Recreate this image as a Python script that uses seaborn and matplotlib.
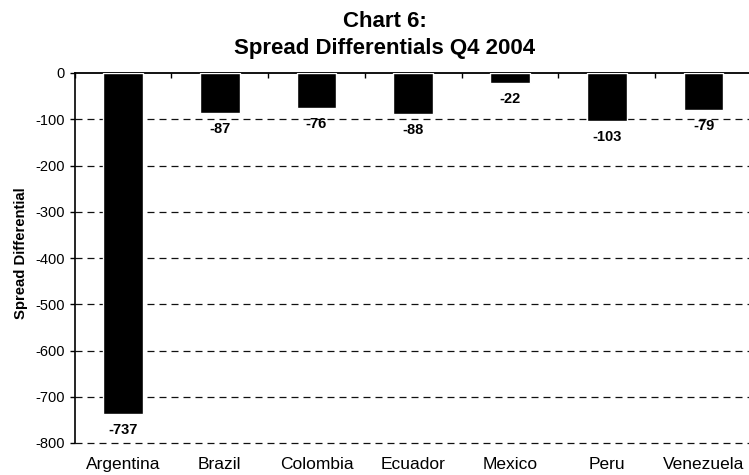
import matplotlib
matplotlib.use("Agg")
import matplotlib.pyplot as plt
import seaborn as sns
import pandas as pd
import numpy as np

# Spread differentials by country, Q4 2004
countries = ["Argentina", "Brazil", "Colombia", "Ecuador", "Mexico", "Peru", "Venezuela"]
spreads = [-737, -87, -76, -88, -22, -103, -79]
y_ticks = [0, -100, -200, -300, -400, -500, -600, -700, -800]

sns.set_theme(style="white")
plt.rcParams["font.family"] = ["Liberation Sans", "DejaVu Sans"]
plt.rcParams["text.color"] = "black"
plt.rcParams["axes.labelcolor"] = "black"

df = pd.DataFrame({"Country": countries, "Spread": spreads})

W, H = 749, 475
fig = plt.figure(figsize=(W / 100, H / 100), dpi=100)
left, right, top, bottom = 74.5, 752.0, 73.0, 443.0
ax = fig.add_axes([left / W, 1 - bottom / H, (right - left) / W, (bottom - top) / H])

sns.barplot(data=df, x="Country", y="Spread", color="black", width=0.41,
            saturation=1, ax=ax, zorder=3)

ax.set_ylim(-800, 0)
ax.set_xlim(-0.5, len(countries) - 0.5)
ax.set_yticks(y_ticks)
ax.set_yticklabels([str(t) for t in y_ticks])

# dashed horizontal gridlines
for t in y_ticks[1:]:
    ax.axhline(t, color="#111111", lw=0.9, linestyle=(0, (5.6, 4.0)), zorder=1,
               clip_on=False)

# spines: solid zero line on top, left axis line
for side in ["right", "bottom"]:
    ax.spines[side].set_visible(False)
ax.spines["top"].set_color("black")
ax.spines["top"].set_linewidth(1.3)
ax.spines["left"].set_color("black")
ax.spines["left"].set_linewidth(1.2)

ax.set_xlabel("")
ax.set_ylabel("")

# category labels at the bottom, boundary ticks on the zero line
ax.tick_params(axis="x", which="major", length=0, pad=10, labelsize=12.5, colors="black")
ax.set_xticks(np.arange(-0.5, len(countries), 1.0), minor=True)
ax.tick_params(axis="x", which="minor", bottom=False, top=True, direction="in",
               length=3.8, width=1.0, color="black")
ax.tick_params(axis="y", which="major", left=True, direction="out", length=3.8,
               width=1.0, color="black", pad=3, labelsize=10.5, labelcolor="black")

# value labels below each bar
for i, v in enumerate(spreads):
    ax.annotate(f"{v}", (i, v), xytext=(0, -11.5), textcoords="offset points",
                ha="center", va="center", fontsize=10.5, fontweight="bold",
                color="black", zorder=4)

fig.text(385 / W, 1 - 21.7 / H, "Chart 6:", ha="center", va="center",
         fontsize=16, fontweight="bold", color="black")
fig.text(385 / W, 1 - 48.3 / H, "Spread Differentials Q4 2004", ha="center",
         va="center", fontsize=16, fontweight="bold", color="black")
fig.text(21 / W, 1 - 253.5 / H, "Spread Differential", rotation=90, ha="center",
         va="center", fontsize=10.7, fontweight="bold", color="black")

fig.savefig("out.png", dpi=100, facecolor="white")
